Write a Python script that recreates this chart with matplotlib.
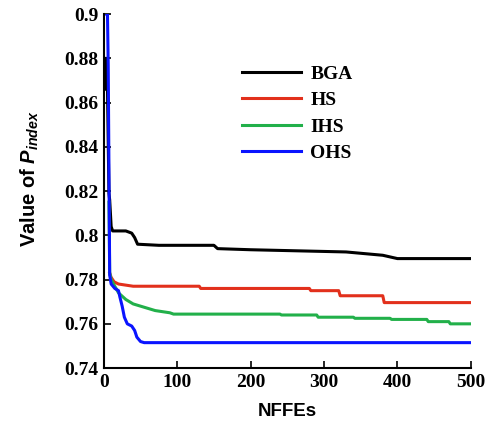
import matplotlib.pyplot as plt
from matplotlib.ticker import FuncFormatter

plt.rcParams['mathtext.fontset'] = 'custom'
plt.rcParams['mathtext.rm'] = 'Liberation Sans:bold'
plt.rcParams['mathtext.it'] = 'Liberation Sans:italic:bold'

# NFFEs / P_index values (step curves)
bga_x = [3, 3, 5, 7, 8, 9, 10, 12, 30, 38, 42, 46, 75, 150, 155, 200, 330, 380, 400, 500]
bga_y = [0.880, 0.866, 0.866, 0.819, 0.816, 0.810, 0.804, 0.802, 0.802, 0.801, 0.799, 0.796, 0.7955, 0.7955, 0.794, 0.7935, 0.7925, 0.791, 0.7895, 0.7895]

hs_x = [8, 10, 14, 20, 30, 40, 130, 132, 280, 282, 320, 322, 380, 382, 500]
hs_y = [0.783, 0.781, 0.779, 0.778, 0.7775, 0.777, 0.777, 0.776, 0.776, 0.775, 0.775, 0.7727, 0.7727, 0.7696, 0.7696]

ihs_x = [7, 8, 10, 15, 20, 30, 40, 50, 60, 70, 80, 90, 95, 240, 242, 290, 292, 340, 342, 390, 392, 440, 442, 470, 472, 500]
ihs_y = [0.815, 0.783, 0.780, 0.777, 0.774, 0.771, 0.769, 0.768, 0.767, 0.766, 0.7655, 0.765, 0.7644, 0.7644, 0.764, 0.764, 0.763, 0.763, 0.7625, 0.7625, 0.762, 0.762, 0.761, 0.761, 0.760, 0.760]

ohs_x = [4, 5, 6, 8, 10, 15, 20, 22, 25, 28, 32, 38, 42, 45, 50, 55, 500]
ohs_y = [0.900, 0.900, 0.877, 0.782, 0.778, 0.776, 0.775, 0.772, 0.768, 0.763, 0.760, 0.759, 0.757, 0.754, 0.752, 0.7515, 0.7515]

fig = plt.figure(figsize=(4.92, 4.29), dpi=100)
ax = fig.add_axes([0.211, 0.142, 0.746, 0.825])

ax.plot(bga_x, bga_y, color='black', lw=2.2, label='BGA')
ax.plot(hs_x, hs_y, color='#e2301c', lw=2.2, label='HS')
ax.plot(ihs_x, ihs_y, color='#22b04a', lw=2.2, label='IHS')
ax.plot(ohs_x, ohs_y, color='#0a14ff', lw=2.2, label='OHS')

ax.set_xlim(0, 500)
ax.set_ylim(0.74, 0.9)
ax.set_xticks([0, 100, 200, 300, 400, 500])
ax.set_yticks([0.74, 0.76, 0.78, 0.8, 0.82, 0.84, 0.86, 0.88, 0.9])
ax.yaxis.set_major_formatter(FuncFormatter(lambda v, p: '%g' % round(v, 2)))

ax.spines['top'].set_visible(False)
ax.spines['right'].set_visible(False)
ax.spines['left'].set_linewidth(1.5)
ax.spines['bottom'].set_linewidth(1.5)
ax.tick_params(direction='in', length=5, width=1.2, pad=4)
for lab in ax.get_xticklabels() + ax.get_yticklabels():
    lab.set_fontfamily('Liberation Serif')
    lab.set_fontweight('bold')
    lab.set_fontsize(14)

ax.set_xlabel('NFFEs', fontsize=13.5, fontweight='bold', family='Liberation Sans')
ax.xaxis.set_label_coords(0.5, -0.099)
ax.set_ylabel('Value of $P_{index}$', fontsize=14.5, fontweight='bold', family='Liberation Sans')
ax.yaxis.set_label_coords(-0.17, 0.535)

leg = ax.legend(loc='upper left', bbox_to_anchor=(0.33, 0.905), frameon=False,
                handlelength=3.0, labelspacing=0.45, handletextpad=0.5,
                prop={'family': 'Liberation Serif', 'weight': 'bold', 'size': 14})

fig.savefig('out.png', dpi=100)
